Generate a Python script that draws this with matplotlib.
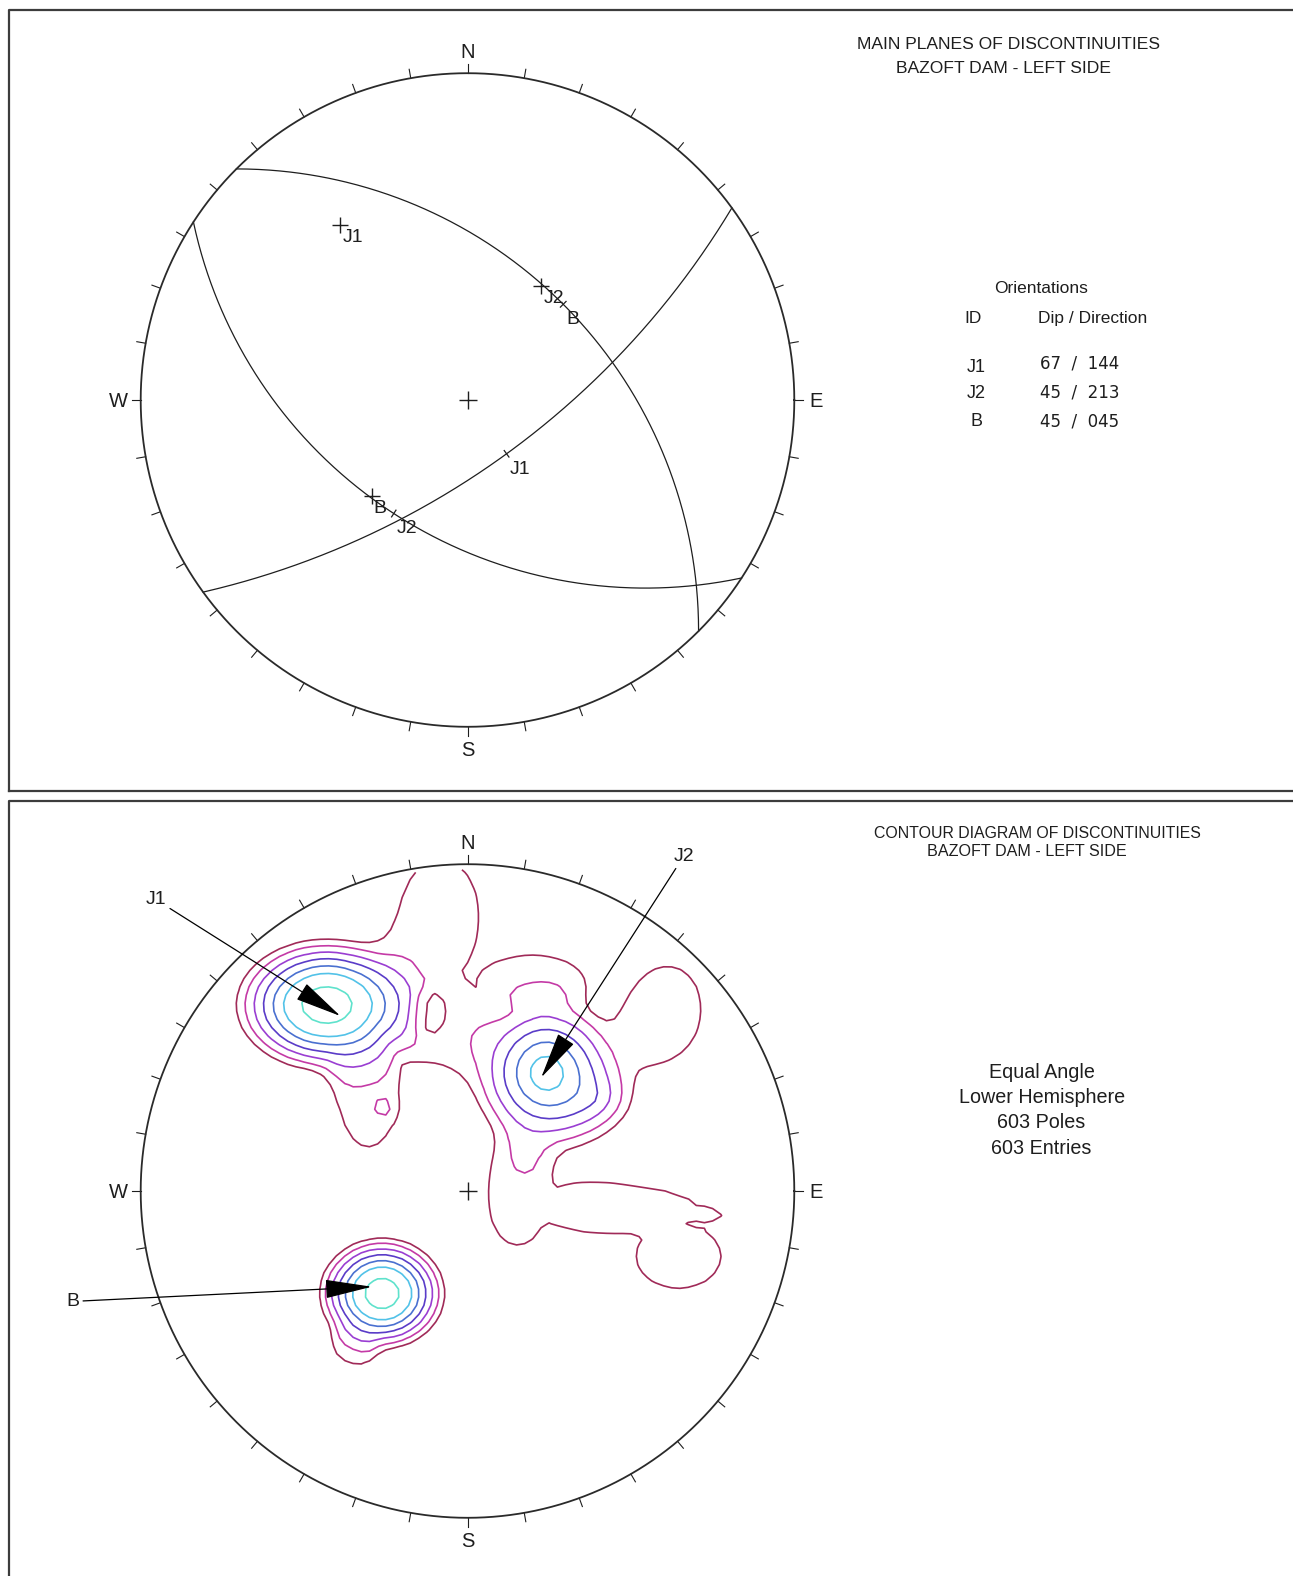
import numpy as np
import matplotlib
matplotlib.use("Agg")
import matplotlib.pyplot as plt
from matplotlib.lines import Line2D
from matplotlib.patches import Circle

W, H = 1293, 1576

# ---- main planes of discontinuity (dip / dip direction) ----
plane_ids = ["J1", "J2", "B"]
plane_dip = [67, 45, 45]
plane_dipdir = [144, 213, 45]

# ---- pole concentrations (summed): centre trend / plunge, peak, spread E / N, shape ----
set_trend = [322.9, 33.5, 219.8, 314.65, 53.7]
set_plunge = [18.96, 43.0, 45.6, 50.5, 38.9]
set_peak = [17.0, 7.4, 16.8, 0.45, 1.2]
set_spread_e = [0.124, 0.13, 0.086, 0.035, 0.12]
set_spread_n = [0.090, 0.135, 0.076, 0.035, 0.09]
set_shape = [1.3, 1.3, 1.3, 2.0, 1.3]

# ---- scattered low-density patches (envelope) ----
patch_trend = [354.5, 349.4, 14.72, 47.8, 105.65, 97.35, 107.2, 95.8, 311.3, 215.5]
patch_plunge = [8.26, 29.3, 20.76, 10.3, 71.86, 38.64, 21.84, 17.5, 45.86, 27.0]
patch_level = [1.1, 0.85, 0.85, 1.1, 1.1, 1.1, 1.1, 1.1, 1.1, 0.75]
patch_spread_e = [0.200, 0.200, 0.249, 0.166, 0.139, 0.415, 0.233, 0.089, 0.133, 0.085]
patch_spread_n = [0.277, 0.250, 0.111, 0.215, 0.211, 0.122, 0.177, 0.045, 0.233, 0.094]

# ---- empty pocket inside the low-density zone ----
gap_trend = [347.6]
gap_plunge = [31.7]
gap_depth = [0.6]
gap_spread_e = [0.06]
gap_spread_n = [0.08]

contour_levels = [1.0, 1.42, 2.02, 2.86, 4.07, 5.77, 10.0]
contour_colors = ["#a02a58", "#c43aa6", "#9a3ed2", "#5a3cc8",
                  "#4a70d0", "#52c2e8", "#5fe2cc"]

top_title = ["MAIN PLANES OF DISCONTINUITIES", "BAZOFT DAM - LEFT SIDE"]
bottom_title = ["CONTOUR DIAGRAM OF DISCONTINUITIES", "BAZOFT DAM - LEFT SIDE"]
net_info = ["Equal Angle", "Lower Hemisphere", "603 Poles", "603 Entries"]
cardinals = {"N": 0, "E": 90, "S": 180, "W": 270}

SANS = ["Liberation Sans", "DejaVu Sans"]
INK = "#1e1e1e"

R_PX = 326.8          # primitive circle radius in pixels
LIM = 1.3


def project(trend, plunge):
    """Equal-angle (stereographic) lower-hemisphere projection of a line."""
    t = np.radians(trend)
    r = np.tan(np.radians(90.0 - np.asarray(plunge)) / 2.0)
    return r * np.sin(t), r * np.cos(t)


def great_circle(dipdir, dip, n=361):
    a = np.linspace(0, np.pi, n)
    s = np.radians(dipdir - 90.0)
    dd, dp = np.radians(dipdir), np.radians(dip)
    sv = np.array([np.sin(s), np.cos(s), 0.0])
    dv = np.array([np.sin(dd) * np.cos(dp), np.cos(dd) * np.cos(dp), np.sin(dp)])
    v = np.outer(np.cos(a), sv) + np.outer(np.sin(a), dv)
    return v[:, 0] / (1 + v[:, 2]), v[:, 1] / (1 + v[:, 2])


def kernel(X, Y, trend, plunge, se, sn, shape):
    cx, cy = project(trend, plunge)
    rho = np.sqrt(((X - cx) / se) ** 2 + ((Y - cy) / sn) ** 2)
    return np.exp(-rho ** shape)


def net_axes(fig, cx, cy):
    ax = fig.add_axes([(cx - LIM * R_PX) / W, 1 - (cy + LIM * R_PX) / H,
                       2 * LIM * R_PX / W, 2 * LIM * R_PX / H])
    ax.set_xlim(-LIM, LIM)
    ax.set_ylim(-LIM, LIM)
    ax.set_aspect("equal")
    ax.axis("off")
    th = np.linspace(0, 2 * np.pi, 721)
    ax.plot(np.cos(th), np.sin(th), color="#2a2a2a", lw=1.3, zorder=3)
    tick = 9.0 / R_PX
    for az in range(0, 360, 10):
        t = np.radians(az)
        ax.plot([np.sin(t), (1 + tick) * np.sin(t)],
                [np.cos(t), (1 + tick) * np.cos(t)], color=INK, lw=0.8)
    for lab, az in cardinals.items():
        t = np.radians(az)
        ax.text(1.068 * np.sin(t), 1.068 * np.cos(t) - 0.004, lab, ha="center",
                va="center", fontsize=14.5, family=SANS, color=INK)
    ax.plot(0, 0, marker="+", ms=13, mew=1.0, color=INK)
    return ax


fig = plt.figure(figsize=(W / 100, H / 100), dpi=100)
fig.patch.set_facecolor("white")


def fy(y):
    return 1 - y / H


# panel frames
for (y0, y1) in [(10, 791), (801, H + 5)]:
    fig.add_artist(Line2D([8.5 / W, 8.5 / W, 1.01], [fy(y1), fy(y0), fy(y0)],
                          transform=fig.transFigure, color="#3c3c3c", lw=1.6))
fig.add_artist(Line2D([8.5 / W, 1.01], [fy(791), fy(791)],
                      transform=fig.transFigure, color="#3c3c3c", lw=1.6))

# ---------------- top: great circles and poles ----------------
ax1 = net_axes(fig, 467.5, 400.0)
px = 1.0 / R_PX
for pid, dip, ddir in zip(plane_ids, plane_dip, plane_dipdir):
    gx, gy = great_circle(ddir, dip)
    ax1.plot(gx, gy, color=INK, lw=0.9)
    # dip-direction mark on the great circle
    k = len(gx) // 2
    tx, ty = gx[k + 1] - gx[k - 1], gy[k + 1] - gy[k - 1]
    nrm = np.hypot(tx, ty)
    nx, ny = -ty / nrm * 4 * px, tx / nrm * 4 * px
    ax1.plot([gx[k] - nx, gx[k] + nx], [gy[k] - ny, gy[k] + ny], color=INK, lw=0.9)
    ax1.annotate(pid, (gx[k], gy[k]), xytext=(2, -11), textcoords="offset points",
                 ha="left", va="center", fontsize=14, family=SANS, color=INK)
    # pole to the plane
    ptx, pty = project((ddir + 180) % 360, 90 - dip)
    ax1.plot(ptx, pty, marker="+", ms=11, mew=1.0, color=INK)
    ax1.annotate(pid, (ptx, pty), xytext=(1.5, -9), textcoords="offset points",
                 ha="left", va="center", fontsize=14, family=SANS, color=INK)

fig.text(1008.5 / W, fy(44.2), top_title[0], ha="center", va="center",
         fontsize=12.6, family=SANS, color=INK)
fig.text(1003.5 / W, fy(68.3), top_title[1], ha="center", va="center",
         fontsize=12.6, family=SANS, color=INK)
fig.text(1040.6 / W, fy(288.5), "Orientations", ha="center", va="center",
         fontsize=12.5, family=SANS, color=INK)
fig.text(973 / W, fy(318.6), "ID", ha="center", va="center",
         fontsize=12.5, family=SANS, color=INK)
fig.text(1093 / W, fy(318.6), "Dip / Direction", ha="center", va="center",
         fontsize=12.5, family=SANS, color=INK)
for i, (pid, dip, ddir) in enumerate(zip(plane_ids, plane_dip, plane_dipdir)):
    yrow = [365, 392, 420][i]
    fig.text(976 / W, fy(yrow + 2), pid, ha="center", va="center",
             fontsize=13, family=SANS, color=INK)
    fig.text(1080 / W, fy(yrow - 1 + i * 1.5), f"{dip:02d}  /  {ddir:03d}",
             ha="center", va="center", fontsize=12, family=["DejaVu Sans"],
             color=INK)

# ---------------- bottom: pole density contours ----------------
ax2 = net_axes(fig, 467.5, 1191.0)
g = np.linspace(-1.0, 1.0, 81)
X, Y = np.meshgrid(g, g)
Z = np.zeros_like(X)
for t, p, w, se, sn, sh in zip(set_trend, set_plunge, set_peak,
                               set_spread_e, set_spread_n, set_shape):
    Z += w * kernel(X, Y, t, p, se, sn, sh)
env = np.zeros_like(X)
for t, p, w, se, sn in zip(patch_trend, patch_plunge, patch_level,
                           patch_spread_e, patch_spread_n):
    env = np.maximum(env, w * kernel(X, Y, t, p, se, sn, 4))
Z += env
for t, p, w, se, sn in zip(gap_trend, gap_plunge, gap_depth,
                           gap_spread_e, gap_spread_n):
    Z -= w * kernel(X, Y, t, p, se, sn, 4)
Z = np.ma.masked_where(X ** 2 + Y ** 2 > 1.0, Z)
cs = ax2.contour(X, Y, Z, levels=contour_levels, colors=contour_colors,
                 linewidths=1.2)
clip = Circle((0, 0), 1.0, transform=ax2.transData, facecolor="none",
              edgecolor="none")
ax2.add_patch(clip)
cs.set_clip_path(clip)

label_pos = {"J1": (-0.954, 0.892), "J2": (0.662, 1.025), "B": (-1.209, -0.338)}
for pid, dip, ddir in zip(plane_ids, plane_dip, plane_dipdir):
    ptx, pty = project((ddir + 180) % 360, 90 - dip)
    ax2.annotate(pid, xy=(ptx, pty), xytext=label_pos[pid], ha="center",
                 va="center", fontsize=14, family=SANS, color=INK,
                 arrowprops=dict(arrowstyle="-|>,head_length=1.5,head_width=0.3",
                                 mutation_scale=20, color="black", lw=0.9,
                                 shrinkA=1, shrinkB=0))

fig.text(1037 / W, fy(834), bottom_title[0], ha="center", va="center",
         fontsize=11.4, family=SANS, color=INK)
fig.text(1027 / W, fy(852), bottom_title[1], ha="center", va="center",
         fontsize=11.6, family=SANS, color=INK)
for i, line in enumerate(net_info):
    fig.text(1041.6 / W, fy([1072, 1097.5, 1122.5, 1148.5][i]), line,
             ha="center", va="center", fontsize=14.2, family=SANS, color=INK)

fig.savefig("out.png", dpi=100, facecolor="white")
